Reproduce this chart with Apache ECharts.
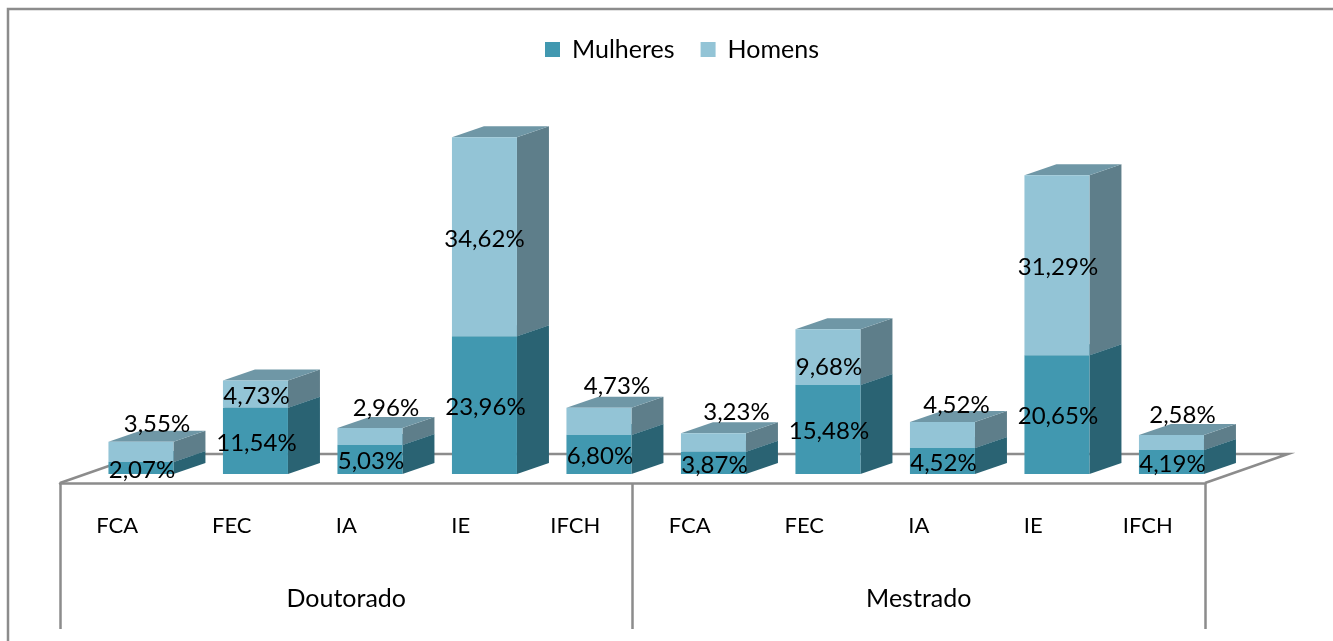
<!DOCTYPE html>
<html>
<head>
<meta charset="utf-8">
<style>html,body{margin:0;padding:0;background:#fff}#c{width:1333px;height:641px}</style>
<script src="https://cdn.jsdelivr.net/npm/echarts@6/dist/echarts.min.js"></script>
</head>
<body>
<div id="c"></div>
<script>
const categories = ['FCA','FEC','IA','IE','IFCH','FCA','FEC','IA','IE','IFCH'];
const groups = ['Doutorado','Mestrado'];
const mulheres = [2.07,11.54,5.03,23.96,6.80,3.87,15.48,4.52,20.65,4.19];
const homens = [3.55,4.73,2.96,34.62,4.73,3.23,9.68,4.52,31.29,2.58];

// hand-placed label shifts (pixels, from the middle of the segment)
const homensLabelDx = [16,1,16,0,18,23,1,14,1,11];
const homensLabelDy = [-28,2,-28,3,-35,-30,10,-30,2,-27];
const FONT = 'Lato';
const FS = 24;
const LINE = '#8c8c8c';
const BAR_W = 65, DX = 32, DY = -11, OFF_X = 23.7, OFF_Y = -9;
const fmt = v => v.toFixed(2).replace('.', ',') + '%';

function boxItem(front, side, top, labelDx, labelDy) {
  return function (params, api) {
    const i = api.value(0), base = api.value(1), v = api.value(2);
    const p0 = api.coord([i, base]), p1 = api.coord([i, base + v]);
    const l = p0[0] + OFF_X - BAR_W / 2, r = l + BAR_W;
    const b = p0[1] + OFF_Y, t = p1[1] + OFF_Y;
    const ch = [
      {type:'polygon', shape:{points:[[r,b],[r+DX,b+DY],[r+DX,t+DY],[r,t]]}, style:{fill:side}},
      {type:'polygon', shape:{points:[[l,t],[r,t],[r+DX,t+DY],[l+DX,t+DY]]}, style:{fill:top}},
      {type:'rect', shape:{x:l,y:t,width:BAR_W,height:b-t}, style:{fill:front}},
      {type:'text', z2:50, style:{
        text: fmt(v), x:(l+r)/2 + labelDx[i], y:(t+b)/2 + labelDy[i],
        align:'center', verticalAlign:'middle', fill:'#000', font: FS+'px '+FONT }}
    ];
    return {type:'group', children: ch};
  };
}

const womenData = mulheres.map((v,i)=>[i,0,v]);
const menData = homens.map((v,i)=>[i,mulheres[i],v]);
const womenDy = mulheres.map(()=>2);
const womenDx = mulheres.map(()=>1);

const chart = echarts.init(document.getElementById('c'), null, {renderer:'canvas'});
chart.setOption({
  animation:false,
  backgroundColor:'#fff',
  graphic:[{type:'rect', silent:true, shape:{x:8,y:9,width:1400,height:700},
    style:{fill:'none', stroke:LINE, lineWidth:2.5}}],
  legend:{
    data:['Mulheres','Homens'], left:540, top:32, icon:'rect', itemWidth:15, itemHeight:15, itemGap:26,
    textStyle:{fontFamily:FONT, fontSize:25, color:'#000', padding:[0,0,0,7]}
  },
  grid:{left:60, top:80.5, width:1145, height:402.5, containLabel:false},
  xAxis:[
    {type:'category', data:categories, position:'bottom',
      axisLine:{lineStyle:{color:LINE,width:2.5}}, axisTick:{show:false},
      axisLabel:{interval:0, margin:32, color:'#000', fontFamily:FONT, fontSize:22}},
    {type:'category', data:groups, position:'bottom',
      axisLine:{show:false},
      axisTick:{show:true, length:146, lineStyle:{color:LINE,width:2.5}},
      axisLabel:{interval:0, margin:103, color:'#000', fontFamily:FONT, fontSize:25}}
  ],
  yAxis:{type:'value', min:0, max:70, show:false, splitLine:{show:false}},
  series:[
    {type:'custom', name:'floor', silent:true, z:1, data:[[0]], clip:false,
      renderItem:(p,api)=>{
        const half = api.size([1,0])[0] / 2;
        const a0 = api.coord([0,0]), c0 = api.coord([9,0]);
        const a = [a0[0]-half, a0[1]], c = [c0[0]+half, c0[1]];
        return {type:'polyline', shape:{points:[a,[a[0]+83,a[1]-29],[c[0]+83,c[1]-29],c]},
          style:{stroke:LINE, lineWidth:2.5, fill:'none'}};
      }},
    {type:'custom', name:'Mulheres', z:3, clip:false, itemStyle:{color:'#4198B0'}, data:womenData,
      encode:{x:0,y:2},
      renderItem:boxItem('#4198B0','#2A6373','#3A7F93', womenDx, womenDy)},
    {type:'custom', name:'Homens', z:3, clip:false, itemStyle:{color:'#93C4D6'}, data:menData,
      encode:{x:0,y:2},
      renderItem:boxItem('#93C4D6','#5E7E8A','#6F97A6', homensLabelDx, homensLabelDy)}
  ]
});
</script>
</body>
</html>
